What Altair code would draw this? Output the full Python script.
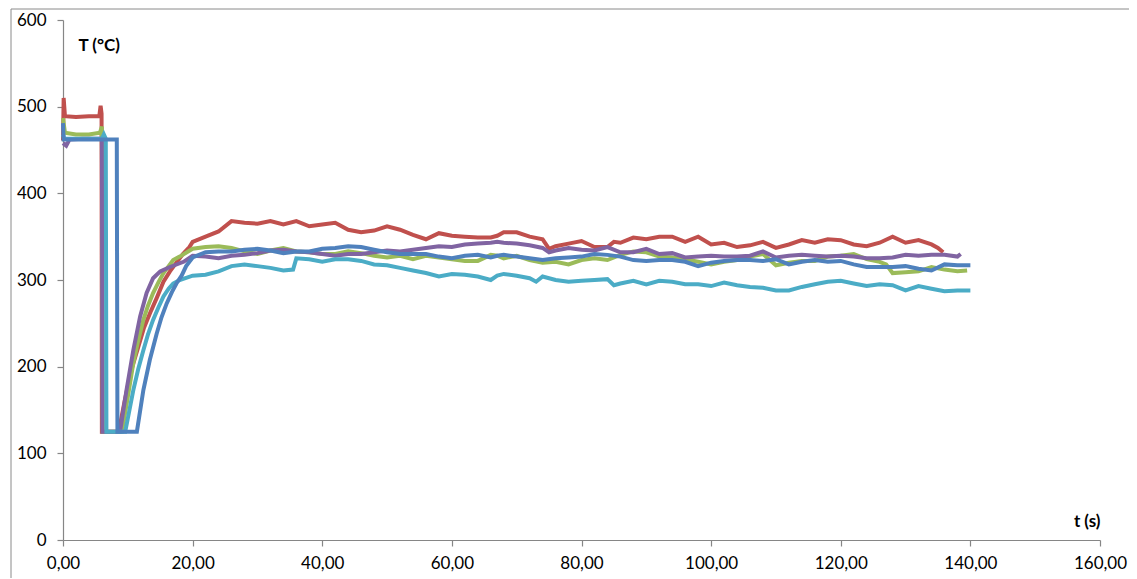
import altair as alt
import pandas as pd

# ---- data (t in s, T in °C) ----
red_t = [0, 0.1, 0.3, 2, 4, 5.6, 5.8, 5.95, 6.0, 8.6, 9.5, 10.5, 11.5, 12.5, 13.5, 14.5, 15.5, 16.5, 17.5, 18.5, 19.5,
         20, 22, 24, 26, 28, 30, 32, 34, 36, 38, 40, 42, 44, 46, 48, 50, 52, 54, 56, 58, 60, 62, 64, 66, 67, 68, 70, 72,
         74, 75, 76, 78, 80, 82, 84, 85, 86, 88, 90, 92, 94, 96, 98, 100, 102, 104, 106, 108, 110, 112, 114, 116, 118,
         120, 122, 124, 126, 128, 130, 132, 134, 135, 135.8]
red_T = [461, 510, 489, 488, 489, 489, 501, 492, 125, 125, 160, 195, 220, 245, 263, 280, 298, 310, 320, 330, 338,
         344, 350, 356, 368, 366, 365, 368, 364, 368, 362, 364, 366, 358, 355, 357, 362, 358, 352, 347, 354, 351, 350,
         349, 349, 351, 355, 355, 350, 347, 336, 339, 342, 345, 338, 338, 344, 343, 349, 347, 350, 350, 344, 350, 341,
         343, 338, 340, 344, 337, 341, 346, 343, 347, 346, 341, 339, 343, 350, 343, 346, 341, 337, 332]

green_t = [0, 0.3, 2, 4, 5.7, 6.0, 6.15, 9.1, 10, 10.85, 11.6, 12.4, 13.1, 13.9, 14.7, 15.5, 16.3, 17, 18, 20, 22, 24,
           26, 28, 30, 32, 34, 36, 38, 40, 42, 44, 46, 48, 50, 52, 54, 56, 58, 60, 62, 64, 66, 67, 68, 70, 72, 74, 76,
           78, 80, 82, 84, 86, 88, 90, 92, 94, 96, 98, 100, 102, 104, 106, 108, 110, 112, 114, 116, 118, 120, 122, 124,
           126, 127, 128, 130, 132, 134, 136, 138, 139.5]
green_T = [487, 470, 468, 468, 470, 477, 125, 125, 165, 204, 230, 254, 270, 285, 297, 308, 316, 323, 327, 336, 338,
           339, 337, 333, 330, 334, 337, 333, 332, 330, 330, 333, 331, 328, 326, 328, 324, 328, 326, 324, 322, 322,
           329, 328, 325, 328, 323, 320, 321, 318, 323, 325, 323, 329, 333, 332, 327, 326, 324, 321, 318, 321, 323,
           327, 330, 317, 320, 322, 322, 327, 328, 330, 324, 321, 318, 308, 309, 310, 315, 312, 310, 311]

purple_t = [0, 0.5, 1, 3, 6.0, 6.1, 8.8, 9.8, 10.85, 11.9, 12.9, 13.9, 15, 16.5, 18.6, 20, 22, 24, 26, 28, 30, 32, 34,
            36, 38, 40, 42, 44, 46, 48, 50, 52, 54, 56, 58, 60, 62, 64, 66, 67, 68, 70, 72, 74, 75, 76, 78, 80, 82, 84,
            86, 88, 90, 92, 94, 96, 98, 100, 102, 104, 106, 108, 110, 112, 114, 116, 118, 120, 122, 124, 126, 128, 130,
            132, 134, 136, 138, 138.5]
purple_T = [458, 455, 462, 463, 463, 125, 125, 173, 219, 258, 285, 302, 310, 315, 321, 328, 327, 325, 328, 329, 331,
            334, 335, 333, 332, 330, 328, 330, 330, 332, 334, 333, 335, 337, 339, 338, 341, 342, 343, 344, 343, 342,
            340, 337, 332, 334, 337, 335, 334, 338, 332, 332, 336, 330, 331, 326, 327, 328, 327, 327, 328, 333, 326,
            328, 329, 328, 327, 328, 327, 325, 325, 326, 329, 328, 329, 329, 327, 330]

cyan_t = [0, 0.2, 3, 6.0, 6.3, 6.6, 6.7, 9.6, 10.85, 11.6, 12.4, 13.1, 13.9, 14.7, 15.5, 16.3, 17, 18, 20, 22, 24, 26,
          28, 30, 32, 34, 35.5, 36, 38, 40, 42, 44, 46, 48, 50, 52, 54, 56, 58, 60, 62, 64, 66, 67, 68, 70, 72, 73, 74,
          76, 78, 80, 82, 84, 85, 86, 88, 90, 92, 94, 96, 98, 100, 102, 104, 106, 108, 110, 112, 114, 116, 118, 120,
          122, 124, 126, 128, 130, 132, 134, 136, 138, 140]
cyan_T = [468, 463, 463, 463, 468, 463, 125, 125, 173, 197, 219, 237, 254, 268, 281, 290, 296, 300, 305, 306, 310, 316,
          318, 316, 314, 311, 312, 325, 324, 321, 324, 324, 322, 318, 317, 314, 311, 308, 304, 307, 306, 304, 300,
          305, 307, 305, 302, 298, 304, 300, 298, 299, 300, 301, 294, 296, 299, 295, 299, 298, 295, 295, 293, 297,
          294, 292, 291, 288, 288, 292, 295, 298, 299, 296, 293, 295, 294, 288, 293, 290, 287, 288, 288]

blue_t = [0, 0.1, 3, 6, 8.3, 8.4, 11.4, 12.4, 13.4, 14.45, 15.2, 16.0, 16.8, 17.5, 18.3, 19, 20, 22, 24, 26, 28, 30,
          32, 34, 36, 38, 40, 42, 44, 46, 48, 50, 52, 54, 56, 58, 60, 62, 64, 66, 67, 68, 70, 72, 74, 76, 78, 80, 82,
          84, 86, 88, 90, 92, 94, 96, 98, 100, 102, 104, 106, 108, 110, 112, 114, 116, 118, 120, 122, 124, 126, 128,
          130, 132, 134, 136, 138, 140]
blue_T = [481, 462, 462, 462, 462, 125, 125, 173, 208, 238, 257, 273, 286, 296, 305, 316, 326, 332, 333, 333, 335, 336,
          334, 331, 333, 333, 336, 337, 339, 338, 335, 332, 330, 330, 330, 327, 325, 328, 329, 326, 328, 329, 327,
          325, 323, 325, 326, 327, 330, 329, 327, 323, 322, 323, 323, 321, 316, 320, 322, 323, 323, 322, 324, 318,
          321, 323, 321, 322, 318, 315, 315, 315, 316, 313, 311, 318, 317, 317]

series_names = ["s1", "s2", "s3", "s4", "s5"]
series_colors = ["#C0504D", "#9BBB59", "#8064A2", "#4BACC6", "#4F81BD"]
x_ticks = [0, 20, 40, 60, 80, 100, 120, 140, 160]
y_ticks = [0, 100, 200, 300, 400, 500, 600]

frames = []
for name, ts, Ts in zip(series_names,
                        [red_t, green_t, purple_t, cyan_t, blue_t],
                        [red_T, green_T, purple_T, cyan_T, blue_T]):
    frames.append(pd.DataFrame({"t": ts, "T": Ts, "series": name, "idx": range(len(ts))}))
df = pd.concat(frames, ignore_index=True)

W, H = 1037, 520
FONT = "Lato"

lines = alt.Chart(df).mark_line(strokeWidth=4, strokeJoin="miter").encode(
    x=alt.X("t:Q", scale=alt.Scale(domain=[0, 160], nice=False),
            axis=alt.Axis(values=x_ticks, grid=False, tickSize=6, labelPadding=9, labelFlush=False,
                          labelExpr="replace(format(datum.value, '.2f'), '.', ',')",
                          title="t (s)", titleAngle=0, titleX=W, titleY=-14,
                          titleAlign="right", titleBaseline="alphabetic")),
    y=alt.Y("T:Q", scale=alt.Scale(domain=[0, 600], nice=False),
            axis=alt.Axis(values=y_ticks, grid=False, tickSize=6, labelPadding=11, labelFlush=False,
                          title="T (°C)", titleAngle=0, titleX=15, titleY=30,
                          titleAlign="left", titleBaseline="alphabetic")),
    color=alt.Color("series:N", scale=alt.Scale(domain=series_names, range=series_colors), legend=None),
    order=alt.Order("idx:Q"),
    detail="series:N",
)

frame = alt.Chart(pd.DataFrame({"k": [0]})).mark_rect(
    filled=False, stroke="#8a8a8a", strokeWidth=1
).encode(
    x=alt.value(-52), y=alt.value(-11), x2=alt.value(W + 60), y2=alt.value(H + 80)
)

chart = alt.layer(frame, lines).properties(
    width=W, height=H,
    autosize=alt.AutoSizeParams(type="none"),
    padding={"left": 55, "top": 12, "right": 29, "bottom": 38},
).configure_view(stroke=None).configure_axis(
    domainColor="#868686", tickColor="#868686", labelColor="#000000",
    labelFont=FONT, labelFontSize=17, titleFont=FONT, titleFontSize=17,
    titleFontWeight="bold", titleColor="#000000", domainWidth=1.2, tickWidth=1.2
)

chart.save("out.html", embed_options={"renderer": "svg", "actions": False})
